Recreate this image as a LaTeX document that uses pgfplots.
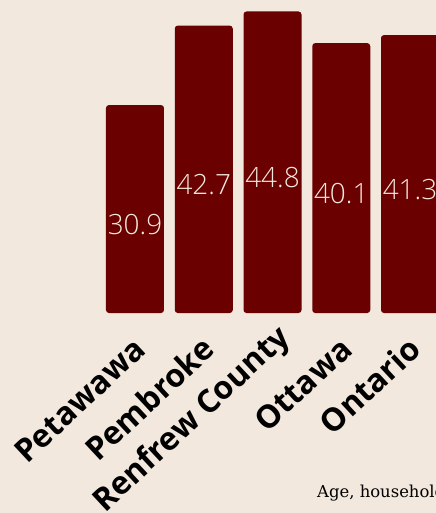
\documentclass[border=0pt]{standalone}
\usepackage{pgfplots}
\pgfplotsset{compat=1.18}
\usepackage{fontspec}
\setmainfont{Open Sans}
\newfontfamily\lightfont{Open Sans Light}
\newfontfamily\capfont{DejaVu Serif}
\definecolor{bg}{HTML}{F3E8DD}
\definecolor{barred}{HTML}{6A0000}
\definecolor{lab}{HTML}{F3E8DD}
\begin{document}
\begin{tikzpicture}
\useasboundingbox (-135bp,-200bp) rectangle (301bp,313bp);
\fill[bg] (-135bp,-200bp) rectangle (301bp,313bp);
\begin{axis}[
  at={(-34.375bp,0)}, anchor=south west,
  x=68.75bp, y=6.73bp,
  xmin=-0.5, xmax=4.5, ymin=0, ymax=46,
  axis line style={draw=none},
  ytick=\empty,
  xtick={0,1,2,3,4},
  xticklabels={Petawawa,Pembroke,{\raisebox{5bp}{Renfrew County}\hspace*{-13bp}},Ottawa,Ontario},
  major tick length=0pt,
  xticklabel style={xshift=13bp, yshift=-39bp, rotate=43, anchor=base east, inner sep=0pt,
    font=\fontsize{32}{32}\selectfont\bfseries, text=black},
  clip=false,
]
\addplot[ybar, bar width=58bp, fill=barred, draw=none, rounded corners=3bp]
  coordinates {(0,30.9) (1,42.7) (2,44.8) (3,40.1) (4,41.3)};
\addplot[draw=none, mark=none, nodes near coords, point meta=explicit symbolic,
  every node near coord/.style={anchor=north, inner sep=0pt, yshift=-5bp, text=lab,
    font=\lightfont\fontsize{28}{28}\selectfont}]
  table[x=x, y expr=\thisrow{v}/2, meta=v] {
x v
0 30.9
1 42.7
2 44.8
3 40.1
4 41.3
};
\end{axis}
\node[anchor=base west, inner sep=0pt, font=\capfont\fontsize{16.5}{16.5}\selectfont, text=black]
  at (182bp,-184bp) {Age, household population};
\end{tikzpicture}
\end{document}
